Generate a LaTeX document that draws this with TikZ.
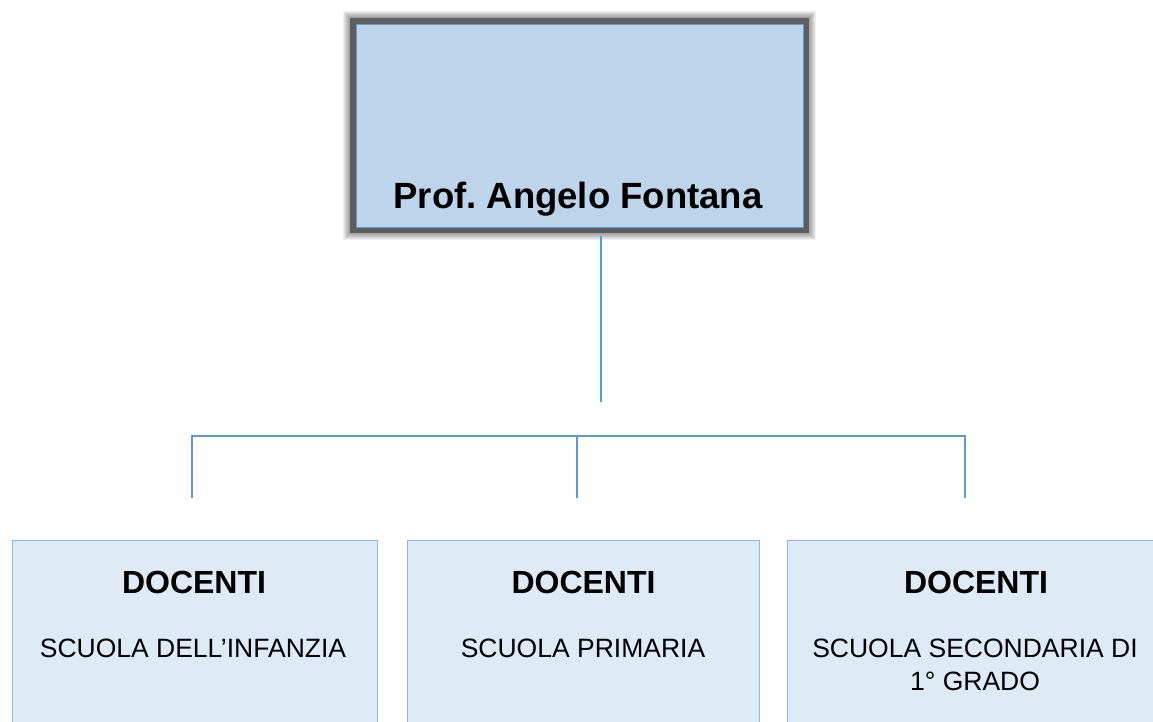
\documentclass[tikz,border=0pt]{standalone}
\usepackage{fontspec}
\setmainfont{Liberation Sans}
\begin{document}
\frenchspacing
\begin{tikzpicture}[x=1pt,y=-1pt,
  conn/.style={draw=lineblue,line width=1.6pt},
  subbox/.style={draw=subborder,fill=subfill,line width=1pt,minimum width=365pt,minimum height=200pt,anchor=north west,inner sep=0pt},
  headtext/.style={font=\bfseries\fontsize{32}{36}\selectfont,inner sep=0pt,anchor=base},
  subtext/.style={font=\fontsize{26.5}{33}\selectfont,inner sep=0pt,anchor=base}]
\definecolor{lineblue}{HTML}{5B9BD5}
\definecolor{topfill}{HTML}{BDD4EB}
\definecolor{subfill}{HTML}{DEEAF6}
\definecolor{subborder}{HTML}{8EB4E3}
\definecolor{framegray}{HTML}{5E5E5E}
\useasboundingbox (0,0) rectangle (1153,722);
\fill[white] (0,0) rectangle (1153,722);
% soft shadow around top box
\foreach \d in {1,...,7}{
  \fill[black,opacity=0.06] (350-\d,18-\d) rectangle (809+\d,233+\d);
}
\fill[framegray] (350,18) rectangle (809,233);
\node[draw=lineblue,fill=topfill,line width=1pt,minimum width=447pt,minimum height=202pt,inner sep=0pt] (top) at (579.5,126) {};
\node[font=\bfseries\fontsize{36.5}{40}\selectfont,inner sep=0pt,anchor=base] (toptext) at (578,208) {Prof. Angelo Fontana};
% connectors
\coordinate (c0) at (601,236);
\coordinate (c1) at (601,402);
\coordinate (hl) at (192,436);
\coordinate (hm) at (577,436);
\coordinate (hr) at (965,436);
\coordinate (dl) at (192,498);
\coordinate (dm) at (577,498);
\coordinate (dr) at (965,498);
\draw[conn] (c0) -- (c1);
\draw[conn] (dl) -- (hl) -- (hr) -- (dr);
\draw[conn] (hm) -- (dm);
% lower boxes
\node[subbox] (b1) at (12,539.5) {};
\node[subbox,minimum width=352pt] (b2) at (407,539.5) {};
\node[subbox,minimum width=376pt] (b3) at (787,539.5) {};
\node[headtext] (h1) at (194,593) {DOCENTI};
\node[headtext] (h2) at (583.5,593) {DOCENTI};
\node[headtext] (h3) at (976,593) {DOCENTI};
\node[subtext] (s1) at (193,657) {SCUOLA DELL’INFANZIA};
\node[subtext] (s2) at (583,657) {SCUOLA PRIMARIA};
\node[subtext] (s3a) at (975,657) {SCUOLA SECONDARIA DI};
\node[subtext] (s3b) at (975,690) {1° GRADO};
\end{tikzpicture}
\end{document}
